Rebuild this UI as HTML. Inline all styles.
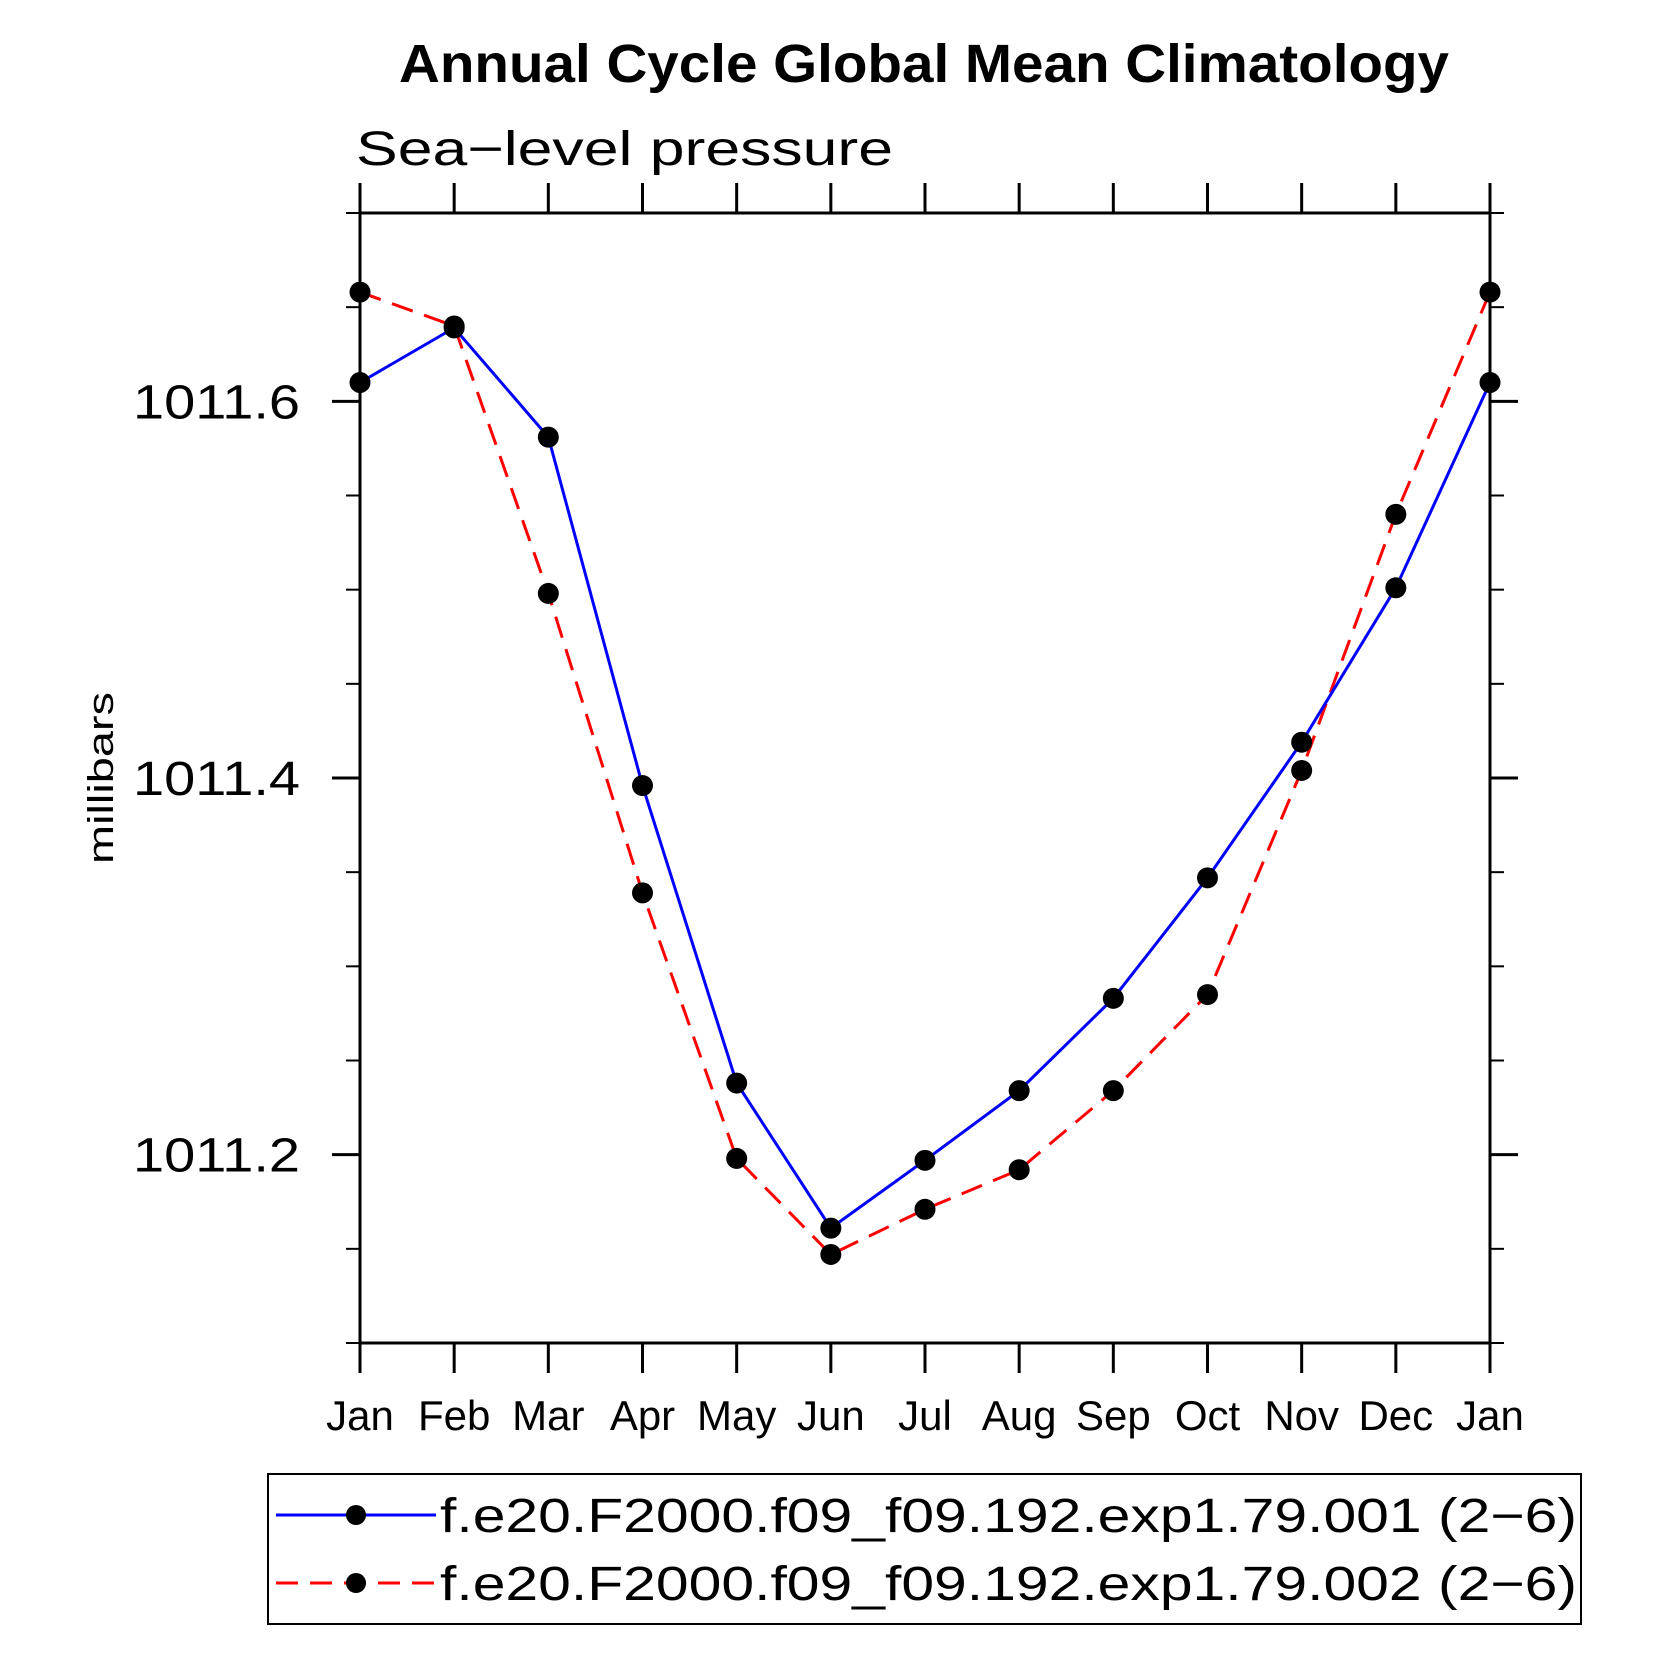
<!DOCTYPE html>
<html><head><meta charset="utf-8"><style>
html,body{margin:0;padding:0;background:#fff;}
svg{display:block;font-family:"Liberation Sans",sans-serif;}
</style></head><body>
<svg id="chart" width="1663" height="1663" viewBox="0 0 1663 1663">
<text x="399" y="82" textLength="1050" lengthAdjust="spacingAndGlyphs" font-size="54" font-weight="bold">Annual Cycle Global Mean Climatology</text>
<text x="356" y="165" textLength="537" lengthAdjust="spacingAndGlyphs" font-size="48">Sea−level pressure</text>
<text transform="translate(113,778) rotate(-90)" text-anchor="middle" textLength="172" lengthAdjust="spacingAndGlyphs" font-size="36">millibars</text>
<g id="axes"></g>
<g id="series"></g>
<g id="legend">
<rect x="268" y="1474" width="1313" height="150" fill="none" stroke="#000" stroke-width="2"/>
<g>
<line x1="276" y1="1515" x2="436" y2="1515" stroke="#00f" stroke-width="3"/>
<circle cx="356" cy="1515" r="10" fill="#000"/>
<text x="440" y="1532" textLength="1137" lengthAdjust="spacingAndGlyphs" font-size="48">f.e20.F2000.f09_f09.192.exp1.79.001 (2−6)</text>
</g>
<g>
<line x1="276" y1="1583" x2="436" y2="1583" stroke="#f00" stroke-width="3" stroke-dasharray="22,12"/>
<circle cx="356" cy="1583" r="10" fill="#000"/>
<text x="440" y="1600" textLength="1137" lengthAdjust="spacingAndGlyphs" font-size="48">f.e20.F2000.f09_f09.192.exp1.79.002 (2−6)</text>
</g>
</g>
</svg>
<script>
const months = ["Jan","Feb","Mar","Apr","May","Jun","Jul","Aug","Sep","Oct","Nov","Dec","Jan"];
const series001 = [1011.610,1011.639,1011.581,1011.396,1011.238,1011.161,1011.197,1011.234,1011.283,1011.347,1011.419,1011.501,1011.610];
const series002 = [1011.658,1011.640,1011.498,1011.339,1011.198,1011.147,1011.171,1011.192,1011.234,1011.285,1011.404,1011.540,1011.658];
const yTickLabels = ["1011.2","1011.4","1011.6"];
const yMajor = [1011.2,1011.4,1011.6];
const yMinor = [1011.1,1011.15,1011.25,1011.3,1011.35,1011.45,1011.5,1011.55,1011.65,1011.7];

const L=360,R=1490,T=213,B=1343,YMIN=1011.1,YMAX=1011.7;
const xs=i=>L+(R-L)*i/(months.length-1);
const ys=v=>B-(v-YMIN)/(YMAX-YMIN)*(B-T);
const NS="http://www.w3.org/2000/svg";
function mk(tag,attrs,parent){const e=document.createElementNS(NS,tag);for(const k in attrs)e.setAttribute(k,attrs[k]);parent.appendChild(e);return e;}
const ax=document.getElementById('axes');
const frame=mk('rect',{x:L,y:T,width:R-L,height:B-T,fill:'none',stroke:'#000','stroke-width':3},ax);


months.forEach((m,i)=>{
  const x=xs(i);
  const t1=mk('line',{x1:x,y1:T,x2:x,y2:T-30,stroke:'#000','stroke-width':3},ax);
  
  
  const t2=mk('line',{x1:x,y1:B,x2:x,y2:B+30,stroke:'#000','stroke-width':3},ax);
  
  
  const tx=mk('text',{x:x,y:1430,'text-anchor':'middle','font-size':42},ax);
  tx.textContent=m;
  
  
});
yMajor.forEach((v,i)=>{
  const y=ys(v);
  const a=mk('line',{x1:L-28,y1:y,x2:L,y2:y,stroke:'#000','stroke-width':3},ax);
  
  
  const b=mk('line',{x1:R,y1:y,x2:R+28,y2:y,stroke:'#000','stroke-width':3},ax);
  
  
  const tx=mk('text',{x:133,y:y+17,textLength:167,lengthAdjust:'spacingAndGlyphs','font-size':48},ax);
  tx.textContent=yTickLabels[i];
  
  
});
yMinor.forEach(v=>{
  const y=ys(v);
  const a=mk('line',{x1:L-14,y1:y,x2:L,y2:y,stroke:'#000','stroke-width':2},ax);
  
  
  const b=mk('line',{x1:R,y1:y,x2:R+14,y2:y,stroke:'#000','stroke-width':2},ax);
  
  
});
const sg=document.getElementById('series');
function draw(vals,color,dash,name){
  const pts=vals.map((v,i)=>xs(i)+','+ys(v)).join(' ');
  const pl=mk('polyline',{points:pts,fill:'none',stroke:color,'stroke-width':3,'stroke-dasharray':dash},sg);
  
  
  vals.forEach((v,i)=>{
    const c=mk('circle',{cx:xs(i),cy:ys(v),r:10.5,fill:'#000'},sg);
    
    
  });
}
draw(series002,'#f00','22,12','series-002');
draw(series001,'#00f','none','series-001');
</script>
</body></html>
